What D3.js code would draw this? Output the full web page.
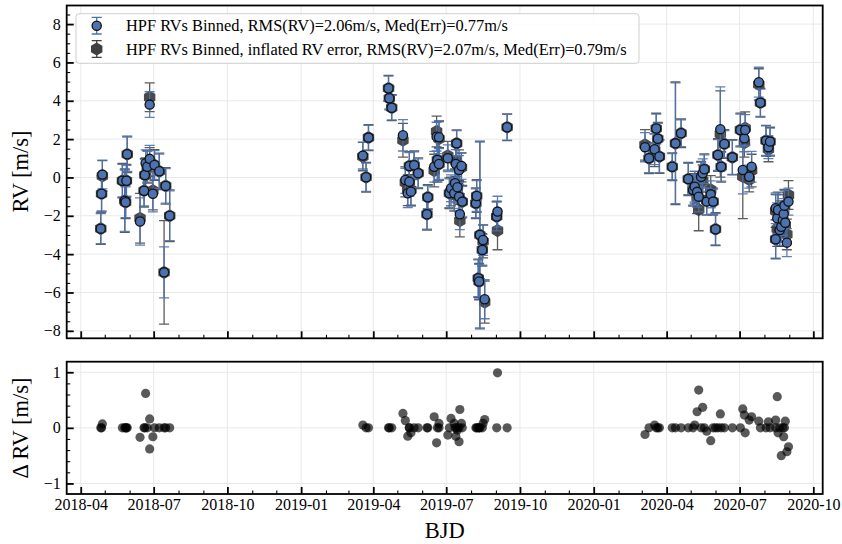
<!DOCTYPE html>
<html>
<head>
<meta charset="utf-8">
<script src="https://cdn.jsdelivr.net/npm/d3@7"></script>
<style>
  body { margin: 0; background: #fff; }
  svg { display: block; font-family: "Liberation Serif", "Times New Roman", serif; }
</style>
</head>
<body>
<svg id="chart" width="842" height="544"></svg>
<script>
// binned HPF RVs (blue), difference to inflated-error version (bottom panel), inflated errors (grey)
const dates = [
  "2018-04-26","2018-04-27","2018-04-28","2018-05-23","2018-05-26","2018-05-27","2018-05-28","2018-05-29",
  "2018-06-14","2018-06-19","2018-06-20","2018-06-21","2018-06-23","2018-06-26","2018-06-26","2018-06-30",
  "2018-07-02","2018-07-08","2018-07-14","2018-07-16","2018-07-21",
  "2019-03-19","2019-03-23","2019-03-26","2019-04-20","2019-04-21","2019-04-24","2019-05-08","2019-05-11",
  "2019-05-14","2019-05-16","2019-05-16","2019-05-18","2019-05-22","2019-05-27","2019-06-07","2019-06-08",
  "2019-06-16","2019-06-19","2019-06-20","2019-06-22","2019-06-22","2019-07-03","2019-07-05","2019-07-07",
  "2019-07-11","2019-07-12","2019-07-13","2019-07-14","2019-07-15","2019-07-17","2019-07-17","2019-07-18",
  "2019-07-20","2019-07-21","2019-08-07","2019-08-08","2019-08-10","2019-08-11","2019-08-12","2019-08-15",
  "2019-08-16","2019-08-18","2019-09-02","2019-09-03","2019-09-15",
  "2020-03-05","2020-03-10","2020-03-17","2020-03-19","2020-03-21","2020-03-23","2020-04-08","2020-04-12",
  "2020-04-19","2020-04-28","2020-05-04","2020-05-06","2020-05-09","2020-05-11","2020-05-14","2020-05-16",
  "2020-05-18","2020-05-21","2020-05-26","2020-05-29","2020-06-01","2020-06-04","2020-06-07","2020-06-08",
  "2020-06-12","2020-06-22","2020-07-02","2020-07-05","2020-07-07","2020-07-08","2020-07-13","2020-07-16",
  "2020-07-25","2020-07-27","2020-08-03","2020-08-06","2020-08-08","2020-08-15","2020-08-15","2020-08-17",
  "2020-08-18","2020-08-20","2020-08-22","2020-08-24","2020-08-25","2020-08-26","2020-08-27","2020-08-29",
  "2020-08-31"
];
const rv = [
  -2.67,-0.85,0.15,-0.17,-1.21,-1.29,-0.17,1.21,
  -2.30,-0.69,0.13,0.74,0.56,0.97,3.80,-0.85,
  0.65,0.32,-4.95,-0.44,-2.00,
  1.14,0.01,2.08,4.65,4.13,3.64,2.20,-0.13,
  -0.82,-0.22,0.60,-0.74,0.64,0.22,-1.92,-1.03,
  0.56,2.13,0.91,0.70,2.10,1.00,-0.82,-0.56,
  -0.82,-0.30,0.70,1.78,-0.51,-1.00,0.39,-1.92,
  0.60,-1.26,-1.35,-0.97,-5.26,-5.43,-3.00,-3.78,
  -3.26,-6.35,-2.04,-1.78,2.62,
  1.58,1.00,1.47,2.55,2.02,1.09,0.56,1.78,
  2.31,-0.08,-0.65,-0.48,-0.75,-1.00,0.04,0.22,
  0.43,-1.26,-0.88,-1.26,-2.70,1.17,2.52,0.56,
  1.75,1.05,2.48,0.39,2.04,2.48,0.04,0.56,
  4.97,3.90,1.92,1.58,1.87,-1.61,-3.22,-2.13,
  -1.70,-2.74,-2.57,-2.22,-1.90,-1.47,-2.36,-3.40,
  -1.26
];
const rvErr = [
  0.78,0.90,0.75,0.85,1.60,0.80,0.80,0.90,
  1.23,0.80,0.80,0.70,0.80,0.70,0.67,0.95,
  0.75,0.90,1.33,0.90,1.30,
  0.70,0.74,0.64,0.64,0.55,0.64,0.82,0.70,
  0.75,0.70,0.70,0.75,0.70,0.75,0.78,0.60,
  0.80,0.75,1.10,0.80,0.86,0.70,0.75,0.70,
  0.80,0.70,0.75,0.66,0.80,0.75,0.75,0.80,
  0.70,0.80,0.75,0.80,0.96,0.90,4.85,0.80,
  0.80,1.02,0.75,0.80,0.67,
  0.76,0.75,0.80,0.75,0.80,0.84,0.68,3.15,
  0.70,0.82,0.80,0.80,0.80,0.80,0.75,0.75,
  0.75,0.70,0.70,0.65,0.82,0.80,2.20,0.75,
  0.70,0.89,0.83,1.25,0.70,0.80,0.60,0.80,
  0.78,0.71,0.77,0.60,0.70,0.80,0.99,0.80,
  0.80,0.80,0.80,0.80,0.80,0.80,0.80,0.73,
  0.70
];
const dRV = [
  0,0,0.07,0,0,0,0,0,
  -0.17,0,0,0.62,0,0.16,-0.38,-0.16,
  0,0,0,0,0,
  0.05,0,0,0,0,0,0.26,0.13,
  -0.15,0,0,-0.09,0,0,0,0,
  0.20,-0.27,0,0,0.08,-0.13,0,0.17,
  0.08,0,-0.15,0,-0.04,0,-0.25,0.33,
  0.08,0,0,0,0,0,0,0,
  0.08,0.15,0,0.99,0,
  -0.12,0,0.05,0,0,0,0,0,
  0,0,0,0.05,0.29,0.68,0,0.37,
  0,-0.06,-0.23,0,0,0,0.25,0,
  0,0,0,0.34,0.23,-0.09,0.14,0.20,
  0.12,0,0,0.11,0,0.14,0,0.56,
  -0.09,0,-0.50,0,-0.16,0,0.12,-0.43,
  -0.34
];
const infErr = [
  0.82,0.95,0.80,0.90,1.65,0.85,0.85,0.95,
  1.30,0.85,0.85,0.90,0.85,0.75,0.75,1.00,
  0.80,0.95,2.70,0.95,1.35,
  0.74,0.78,0.68,0.68,0.60,0.68,0.88,0.75,
  0.80,0.75,0.75,0.80,0.75,0.80,0.82,0.65,
  0.85,0.80,1.15,0.85,0.90,0.75,0.80,0.75,
  0.85,0.75,0.80,0.70,0.85,0.80,0.80,0.85,
  0.75,0.85,0.80,0.85,1.00,0.95,4.90,0.85,
  0.85,1.10,0.80,1.00,0.70,
  0.80,0.80,0.85,0.80,0.85,0.88,0.72,3.20,
  0.75,0.86,0.85,0.85,0.85,1.10,0.80,0.80,
  0.80,0.75,0.75,0.70,0.86,0.85,2.25,0.80,
  0.75,0.92,0.88,2.20,0.75,0.85,0.65,0.85,
  0.82,0.75,0.80,0.65,0.75,0.85,1.02,0.90,
  0.85,0.85,0.85,0.85,0.85,0.85,0.85,0.80,
  0.75
];
const yTicksTop = [-8, -6, -4, -2, 0, 2, 4, 6, 8];
const yTicksBot = [-1, 0, 1];
const legendLabels = [
  "HPF RVs Binned, RMS(RV)=2.06m/s, Med(Err)=0.77m/s",
  "HPF RVs Binned, inflated RV error, RMS(RV)=2.07m/s, Med(Err)=0.79m/s"
];

const serif = '"Liberation Serif", "Times New Roman", serif';
const blue = "#4C72B0", grey = "#404040";
const svg = d3.select("#chart");
const left = 66.7, right = 822.7;
const top1 = 5.5, bot1 = 338.3, top2 = 361.7, bot2 = 494;

const parse = d3.utcParse("%Y-%m-%d");
const pts = dates.map((d, i) => ({
  t: parse(d), rv: rv[i], err: rvErr[i], d: dRV[i],
  rv2: rv[i] - dRV[i], err2: infErr[i]
}));

const x = d3.scaleUtc()
  .domain([new Date(Date.UTC(2018, 2, 14, 12)), new Date(Date.UTC(2020, 9, 12, 17))])
  .range([left, right]);
const y1 = d3.scaleLinear().domain([-8.39, 8.97]).range([bot1, top1]);
const y2 = d3.scaleLinear().domain([-1.19, 1.19]).range([bot2, top2]);

const xMaj = x.ticks(d3.utcMonth.every(3));
const xMin = x.ticks(d3.utcMonth.every(1)).filter((d) => d.getUTCMonth() % 3 !== 0);

function styleAxis(g, w) {
  g.select(".domain").remove();
  g.attr("font-family", serif).attr("font-size", 16);
  g.selectAll("line").attr("stroke", "#000").attr("stroke-width", w);
  g.selectAll("text").attr("font-family", serif).attr("font-size", 16).attr("fill", "#000");
}

function drawPanel(y, yTicks, yMinor, top, bot, showX) {
  const grid = svg.append("g").attr("stroke", "#e9e9e9").attr("stroke-width", 1);
  grid.selectAll(".gx").data(xMaj).join("line")
    .attr("x1", (d) => x(d)).attr("x2", (d) => x(d))
    .attr("y1", top).attr("y2", bot);
  grid.selectAll(".gy").data(yTicks).join("line")
    .attr("x1", left).attr("x2", right)
    .attr("y1", (d) => y(d)).attr("y2", (d) => y(d));

  svg.append("g").attr("transform", `translate(0,${bot})`)
    .call(d3.axisBottom(x).tickValues(xMin).tickSizeInner(-3.5).tickSizeOuter(0).tickFormat(() => ""))
    .call((g) => styleAxis(g, 1.1));
  svg.append("g").attr("transform", `translate(0,${bot})`)
    .call(d3.axisBottom(x).tickValues(xMaj).tickSizeInner(-7).tickSizeOuter(0).tickPadding(5)
      .tickFormat(showX ? d3.utcFormat("%Y-%m") : () => ""))
    .call((g) => styleAxis(g, 1.8));

  svg.append("g").attr("transform", `translate(${left},0)`)
    .call(d3.axisLeft(y).tickValues(yMinor).tickSizeInner(-3.5).tickSizeOuter(0).tickFormat(() => ""))
    .call((g) => styleAxis(g, 1.1));
  svg.append("g").attr("transform", `translate(${left},0)`)
    .call(d3.axisLeft(y).tickValues(yTicks).tickSizeInner(-7).tickSizeOuter(0).tickPadding(6)
      .tickFormat(d3.format("d")))
    .call((g) => styleAxis(g, 1.8));
}

drawPanel(y1, yTicksTop, d3.range(-8, 8.51, 0.5).filter((v) => v % 2 !== 0), top1, bot1, false);
drawPanel(y2, yTicksBot, d3.range(-1, 1.01, 0.2).map((v) => +v.toFixed(1)).filter((v) => Math.abs(v) !== 1 && v !== 0), top2, bot2, true);

function errPath(cx, lo, hi, cap) {
  return `M${cx},${lo}V${hi}M${cx - cap},${lo}H${cx + cap}M${cx - cap},${hi}H${cx + cap}`;
}
function hexPath(cx, cy, r) {
  const p = d3.range(6).map((k) => {
    const a = Math.PI / 2 + k * Math.PI / 3;
    return [cx + r * Math.cos(a), cy - r * Math.sin(a)];
  });
  return "M" + p.map((q) => q.join(",")).join("L") + "Z";
}

// top panel: inflated-error points (grey) underneath, binned points (blue) above
const marks = svg.append("g");
marks.selectAll(".eg").data(pts).join("path")
  .attr("d", (d) => errPath(x(d.t), y1(d.rv2 - d.err2), y1(d.rv2 + d.err2), 5))
  .attr("fill", "none").attr("stroke", grey).attr("stroke-opacity", 0.85).attr("stroke-width", 1.3);
marks.selectAll(".hg").data(pts).join("path")
  .attr("d", (d) => hexPath(x(d.t), y1(d.rv2), 6.6))
  .attr("fill", grey).attr("fill-opacity", 0.95);
marks.selectAll(".eb").data(pts).join("path")
  .attr("d", (d) => errPath(x(d.t), y1(d.rv - d.err), y1(d.rv + d.err), 5))
  .attr("fill", "none").attr("stroke", blue).attr("stroke-opacity", 0.9).attr("stroke-width", 1.3);
marks.selectAll("circle").data(pts).join("circle")
  .attr("cx", (d) => x(d.t)).attr("cy", (d) => y1(d.rv)).attr("r", 4.6)
  .attr("fill", blue).attr("stroke", "#111").attr("stroke-width", 1.3);

// bottom panel: difference
svg.append("g").selectAll("circle").data(pts).join("circle")
  .attr("cx", (d) => x(d.t)).attr("cy", (d) => y2(d.d)).attr("r", 4.6)
  .attr("fill", "#000").attr("fill-opacity", 0.65);

// frames
[[top1, bot1], [top2, bot2]].forEach(([a, b]) => {
  svg.append("rect").attr("x", left).attr("y", a).attr("width", right - left).attr("height", b - a)
    .attr("fill", "none").attr("stroke", "#000").attr("stroke-width", 1.8);
});

// legend
const lg = svg.append("g");
lg.append("rect").attr("x", 76).attr("y", 13.7).attr("width", 563).attr("height", 49.6).attr("rx", 3)
  .attr("fill", "#fff").attr("fill-opacity", 0.85).attr("stroke", "#cfcfcf").attr("stroke-width", 1);
const rows = [25.7, 49];
lg.append("path").attr("d", errPath(96.7, rows[0] - 8.3, rows[0] + 8.3, 5))
  .attr("fill", "none").attr("stroke", blue).attr("stroke-width", 1.3);
lg.append("circle").attr("cx", 96.7).attr("cy", rows[0]).attr("r", 4.6)
  .attr("fill", blue).attr("stroke", "#111").attr("stroke-width", 1.3);
lg.append("path").attr("d", errPath(96.7, rows[1] - 8.3, rows[1] + 8.3, 5))
  .attr("fill", "none").attr("stroke", grey).attr("stroke-width", 1.3);
lg.append("path").attr("d", hexPath(96.7, rows[1], 6.6)).attr("fill", grey);
lg.selectAll("text").data(legendLabels).join("text")
  .attr("x", 126).attr("y", (d, i) => rows[i] + 5.5)
  .attr("font-family", serif).attr("font-size", 16.4).text((d) => d);

// axis labels
svg.append("text").attr("transform", `translate(28,171.5) rotate(-90)`)
  .attr("text-anchor", "middle").attr("font-family", serif).attr("font-size", 22.5).text("RV [m/s]");
svg.append("text").attr("transform", `translate(28,428) rotate(-90)`)
  .attr("text-anchor", "middle").attr("font-family", serif).attr("font-size", 22.5).text("Δ RV [m/s]");
svg.append("text").attr("x", (left + right) / 2).attr("y", 538)
  .attr("text-anchor", "middle").attr("font-family", serif).attr("font-size", 22.5).text("BJD");
</script>
</body>
</html>
